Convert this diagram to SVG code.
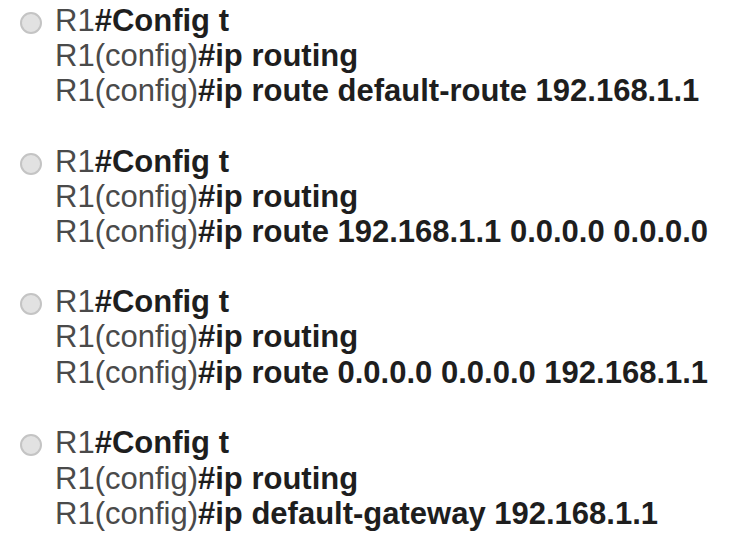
<svg xmlns="http://www.w3.org/2000/svg" width="752" height="540" viewBox="0 0 752 540">
<style>
text{font-family:"Liberation Sans",Arial,sans-serif;font-size:31px;fill:#4a4a4a}
.b{font-weight:bold;fill:#1e1e1e}
.radio{fill:#e2e2e2;stroke:#c4c4c4;stroke-width:2}
</style>
<rect width="752" height="540" fill="#ffffff"/>
<g id="option1">
<circle class="radio" cx="31" cy="23" r="10"/>
<text x="55" y="31">R1<tspan class="b">#Config t</tspan></text>
<text x="55" y="66">R1(config)<tspan class="b">#ip routing</tspan></text>
<text x="55" y="101">R1(config)<tspan class="b">#ip route default-route 192.168.1.1</tspan></text>
</g>
<g id="option2">
<circle class="radio" cx="31" cy="164" r="10"/>
<text x="55" y="172">R1<tspan class="b">#Config t</tspan></text>
<text x="55" y="207">R1(config)<tspan class="b">#ip routing</tspan></text>
<text x="55" y="242">R1(config)<tspan class="b">#ip route 192.168.1.1 0.0.0.0 0.0.0.0</tspan></text>
</g>
<g id="option3">
<circle class="radio" cx="31" cy="304" r="10"/>
<text x="55" y="312">R1<tspan class="b">#Config t</tspan></text>
<text x="55" y="347">R1(config)<tspan class="b">#ip routing</tspan></text>
<text x="55" y="383">R1(config)<tspan class="b">#ip route 0.0.0.0 0.0.0.0 192.168.1.1</tspan></text>
</g>
<g id="option4">
<circle class="radio" cx="31" cy="445" r="10"/>
<text x="55" y="453">R1<tspan class="b">#Config t</tspan></text>
<text x="55" y="489">R1(config)<tspan class="b">#ip routing</tspan></text>
<text x="55" y="524">R1(config)<tspan class="b">#ip default-gateway 192.168.1.1</tspan></text>
</g>
<g id="connectors"/>
</svg>
